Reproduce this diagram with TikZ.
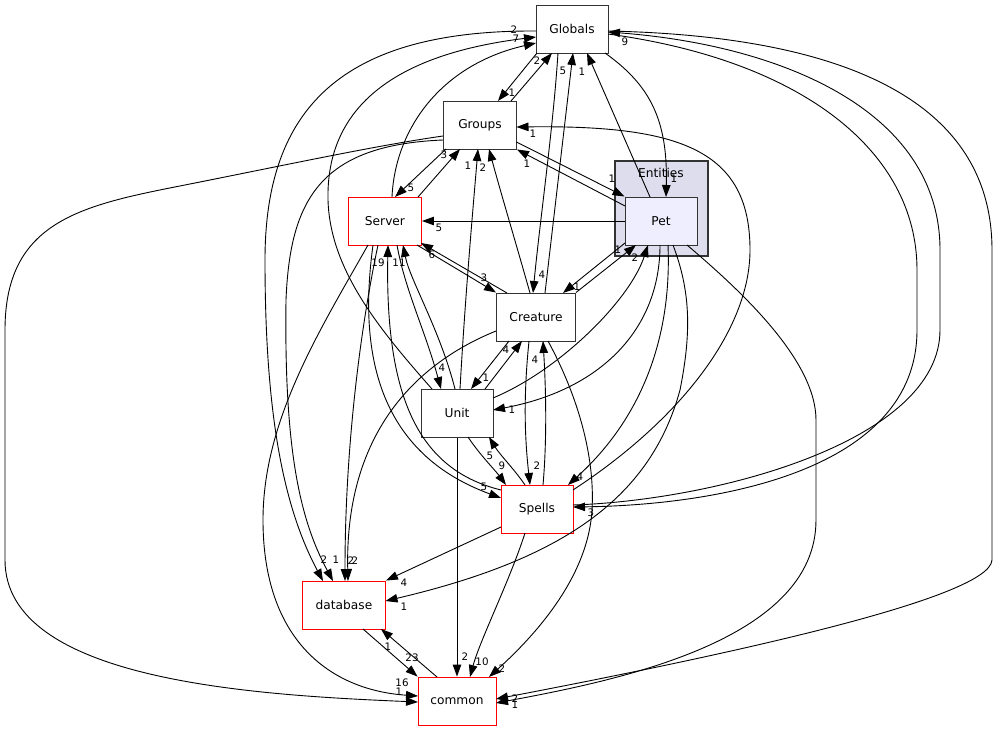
\documentclass[tikz,border=0pt]{standalone}
\usepackage{fontspec}
\setmainfont{DejaVu Sans}
\usetikzlibrary{arrows.meta,calc}
\definecolor{boxgrey}{HTML}{333333}
\definecolor{clusterfill}{HTML}{DDDDEE}
\definecolor{petfill}{HTML}{EEEEFF}
\begin{document}
\begin{tikzpicture}[x=1pt,y=-1pt,
  box/.style={draw=boxgrey, line width=1pt, fill=white, minimum width=72pt, minimum height=48pt, inner sep=0pt, font=\fontsize{12.2}{14}\selectfont},
  redbox/.style={box, draw=red, line width=0.9pt},
  dep/.style={-{Triangle[length=12pt,width=8.5pt]}, line width=0.9pt, black},
  lab/.style={font=\fontsize{10.3}{12}\selectfont, inner sep=0pt},
]
\fill[white] (0,0) rectangle (997,731);
\useasboundingbox (0,0) rectangle (997,731);
% cluster
\node[draw=boxgrey, line width=1.6pt, fill=clusterfill, minimum width=93pt, minimum height=95pt, inner sep=0pt] (Entities) at (661.5,208.5) {};
\node[font=\fontsize{12.2}{14}\selectfont, inner sep=0pt] (EntitiesLabel) at (661,173) {Entities};
% nodes
\node[box] (Globals) at (572,29) {Globals};
\node[box, minimum width=73pt] (Groups) at (480,125) {Groups};
\node[box, fill=petfill] (Pet) at (661,221) {Pet};
\node[redbox, minimum width=73pt] (Server) at (385,221) {Server};
\node[box, minimum width=79pt] (Creature) at (536,317) {Creature};
\node[box] (Unit) at (457,413) {Unit};
\node[redbox] (Spells) at (537,509) {Spells};
\node[redbox, minimum width=83pt] (database) at (344,605) {database};
\node[redbox, minimum width=78pt] (common) at (457,701) {common};
% edges
\draw[dep] ($(Globals)+(-35,24)$) -- ($(Groups)+(18,-24)$);
\draw[dep] ($(Groups)+(31,-24)$) -- ($(Globals)+(-20,24)$);
\draw[dep] ($(Server)+(7,-24)$) .. controls (395,130) and (440,65) .. ($(Globals)+(-36,14)$);
\draw[dep] ($(Unit)+(-25,-24)$) .. controls (380,330) and (330,270) .. (328,200) .. controls (326,110) and (390,55) .. ($(Globals)+(-36,8)$);
\draw[dep] ($(Globals)+(-36,2)$) .. controls (340,30) and (265,110) .. (265,260) .. controls (265,420) and (285,510) .. ($(database)+(-21,-24)$);
\draw[dep] ($(Groups)+(-37,15)$) .. controls (320,145) and (290,200) .. (286,300) .. controls (284,450) and (300,520) .. ($(database)+(-11,-24)$);
\draw[dep] ($(Groups)+(-37,11)$) .. controls (380,145) and (300,162) .. (200,182) .. controls (90,204) and (5,215) .. (5,330) -- (5,560) .. controls (5,680) and (250,695) .. ($(common)+(-39,1)$);
\draw[dep] ($(Globals)+(36,2)$) .. controls (800,35) and (992,80) .. (992,250) -- (992,560) .. controls (990,600) and (700,660) .. ($(common)+(39,-2)$);
\draw[dep] ($(Pet)+(26,24)$) .. controls (740,290) and (816,360) .. (816,420) -- (816,520) .. controls (816,640) and (620,680) .. ($(common)+(39,2)$);
\draw[dep] ($(Pet)+(-11,-24)$) -- ($(Globals)+(15,24)$);
\draw[dep] ($(Globals)+(33,24)$) .. controls (650,85) and (668,120) .. ($(Pet)+(5,-24)$);
\draw[dep] ($(Globals)+(-14,24)$) .. controls (553,130) and (540,220) .. ($(Creature)+(-3,-24)$);
\draw[dep] ($(Creature)+(9,-24)$) -- ($(Globals)+(1,24)$);
\draw[dep] ($(Globals)+(36,5)$) .. controls (800,60) and (917,150) .. (917,270) -- (917,330) .. controls (917,470) and (720,505) .. ($(Spells)+(36,-2)$);
\draw[dep] ($(Spells)+(36,-4)$) .. controls (720,500) and (940,440) .. (940,330) -- (940,250) .. controls (940,110) and (780,45) .. ($(Globals)+(36,3)$);
\draw[dep] (Pet.west) -- (Server.east);
\draw[dep] ($(Groups)+(36.5,17)$) -- (Pet.north west);
\draw[dep] ($(Pet)+(-36,-15)$) -- (Groups.south east);
\draw[dep] ($(Pet)+(-36,22)$) -- ($(Creature)+(27,-24)$);
\draw[dep] (Creature.north east) -- ($(Pet)+(-25,24)$);
\draw[dep] ($(Unit)+(36,-15)$) .. controls (560,370) and (630,300) .. ($(Pet)+(-13,24)$);
\draw[dep] ($(Pet)+(-1,24)$) .. controls (660,330) and (600,390) .. ($(Unit)+(36,-3)$);
\draw[dep] ($(Pet)+(7,24)$) .. controls (672,340) and (640,420) .. ($(Spells)+(31,-24)$);
\draw[dep] ($(Pet)+(12,24)$) .. controls (690,290) and (692,330) .. (680,390) .. controls (650,500) and (560,560) .. ($(database)+(41.5,-4)$);
\draw[dep] ($(Spells)+(36,-19)$) .. controls (680,420) and (750,330) .. (750,250) .. controls (750,150) and (680,125) .. ($(Groups)+(36.5,2)$);
\draw[dep] ($(Server)+(33,-24)$) -- ($(Groups)+(-20,24)$);
\draw[dep] ($(Groups)+(-34,24)$) -- ($(Server)+(10,-24)$);
\draw[dep] ($(Unit)+(3,-24)$) .. controls (465,300) and (472,220) .. ($(Groups)+(-2,24)$);
\draw[dep] ($(Creature)+(-6,-24)$) .. controls (515,240) and (500,190) .. ($(Groups)+(9,24)$);
\draw[dep] ($(Creature)+(-29,-24)$) -- ($(Server)+(36,22)$);
\draw[dep] ($(Server)+(32,24)$) -- (Creature.north west);
\draw[dep] ($(Unit)+(-2,-24)$) .. controls (440,330) and (410,280) .. ($(Server)+(18,24)$);
\draw[dep] ($(Server)+(12,24)$) .. controls (405,290) and (425,330) .. ($(Unit)+(-16,-24)$);
\draw[dep] ($(Server)+(-12,24)$) .. controls (360,340) and (370,450) .. ($(Spells)+(-36,-11)$);
\draw[dep] ($(Spells)+(-36,-19)$) .. controls (420,470) and (385,400) .. ($(Server)+(3,24)$);
\draw[dep] ($(Server)+(-7,24)$) .. controls (360,330) and (345,450) .. ($(database)+(1,-24)$);
\draw[dep] ($(Server)+(-17,24)$) .. controls (320,330) and (263,420) .. (263,520) .. controls (263,640) and (330,690) .. ($(common)+(-39,-5)$);
\draw[dep] ($(Creature)+(-40,14)$) .. controls (400,370) and (345,450) .. ($(database)+(4,-24)$);
\draw[dep] ($(Creature)+(-27,24)$) -- ($(Unit)+(14,-24)$);
\draw[dep] ($(Unit)+(28,-24)$) -- ($(Creature)+(-14,24)$);
\draw[dep] ($(Unit)+(11,24)$) .. controls (480,455) and (495,470) .. ($(Spells)+(-31,-24)$);
\draw[dep] ($(Spells)+(-12,-24)$) .. controls (515,470) and (500,455) .. ($(Unit)+(32,24)$);
\draw[dep] ($(Creature)+(-7,24)$) .. controls (523,400) and (525,440) .. ($(Spells)+(-7,-24)$);
\draw[dep] ($(Spells)+(6,-24)$) .. controls (547,440) and (546,390) .. ($(Creature)+(7,24)$);
\draw[dep] ($(Creature)+(12,24)$) .. controls (580,400) and (595,460) .. (592,510) .. controls (588,580) and (530,640) .. ($(common)+(32,-24)$);
\draw[dep] ($(Spells)+(-12,24)$) .. controls (510,580) and (480,640) .. ($(common)+(13,-24)$);
\draw[dep] ($(Spells)+(-36,18)$) -- (database.north east);
\draw[dep] (Unit.south) -- (common.north);
\draw[dep] ($(database)+(19,24)$) -- (common.north west);
\draw[dep] ($(common)+(-20,-24)$) -- ($(database)+(37,24)$);
% labels
\node[lab] (l01) at (512,93) {1};
\node[lab] (l02) at (537,61) {2};
\node[lab] (l03) at (514,30) {2};
\node[lab] (l04) at (516,39) {7};
\node[lab] (l05) at (563,71) {5};
\node[lab] (l06) at (582,72) {1};
\node[lab] (l07) at (625,42) {9};
\node[lab] (l08) at (533,134) {1};
\node[lab] (l09) at (444,155) {3};
\node[lab] (l10) at (468,166) {1};
\node[lab] (l11) at (483,168) {2};
\node[lab] (l12) at (527,164) {1};
\node[lab] (l13) at (612,179) {1};
\node[lab] (l14) at (674,179) {1};
\node[lab] (l15) at (411,188) {5};
\node[lab] (l16) at (439,228) {5};
\node[lab] (l17) at (432,255) {6};
\node[lab] (l18) at (378,263) {19};
\node[lab] (l19) at (399,263) {11};
\node[lab] (l20) at (484,278) {3};
\node[lab] (l21) at (542,275) {4};
\node[lab] (l22) at (577,287) {1};
\node[lab] (l23) at (618,250) {1};
\node[lab] (l24) at (635,258) {2};
\node[lab] (l25) at (442,368) {4};
\node[lab] (l26) at (506,350) {4};
\node[lab] (l27) at (486,378) {1};
\node[lab] (l28) at (535,360) {4};
\node[lab] (l29) at (512,410) {1};
\node[lab] (l30) at (490,456) {5};
\node[lab] (l31) at (502,466) {9};
\node[lab] (l32) at (537,466) {2};
\node[lab] (l33) at (580,477) {4};
\node[lab] (l34) at (484,487) {5};
\node[lab] (l35) at (591,513) {3};
\node[lab] (l36) at (324,560) {2};
\node[lab] (l37) at (336,560) {1};
\node[lab] (l38) at (351,561) {2};
\node[lab] (l39) at (355,561) {2};
\node[lab] (l40) at (404,583) {4};
\node[lab] (l41) at (404,607) {1};
\node[lab] (l42) at (388,647) {1};
\node[lab] (l43) at (412,658) {23};
\node[lab] (l44) at (465,657) {2};
\node[lab] (l45) at (482,662) {10};
\node[lab] (l46) at (502,669) {2};
\node[lab] (l47) at (402,683) {16};
\node[lab] (l48) at (399,692) {1};
\node[lab] (l49) at (515,699) {2};
\node[lab] (l50) at (515,705) {1};
\end{tikzpicture}
\end{document}
